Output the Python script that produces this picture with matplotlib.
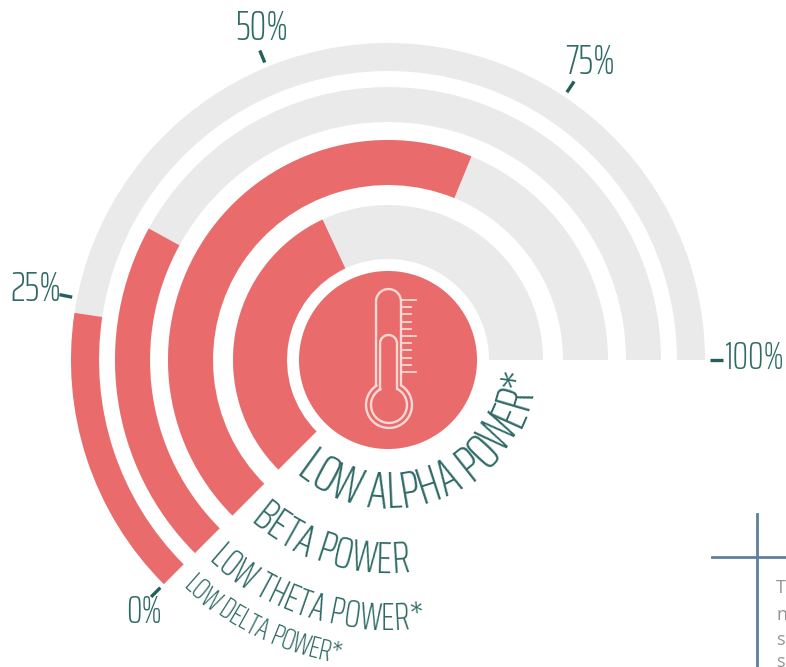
import numpy as np
import matplotlib
matplotlib.use("Agg")
import matplotlib.pyplot as plt
from matplotlib import font_manager as fm
from matplotlib.textpath import TextPath

# Band values in percent, innermost band first
bands = ["LOW ALPHA POWER*", "BETA POWER", "LOW THETA POWER*", "LOW DELTA POWER*"]
values = [48.9, 69.9, 32.8, 23.8]

# Radial extents of the bands and the central disc, in pixels
band_inner = [101, 175, 238, 289]
band_outer = [155, 220, 273, 317]
disc_radius = 89

# Curved label layout: baseline radius, size, start and end angle (degrees)
label_radius = [148, 213, 270, 307]
label_size = [37, 32, 27, 22]
label_start = [231, 229.2, 228, 227.8]
label_end = [356, 276, 278, 261]

tick_values = [0, 25, 50, 75, 100]
tick_labels = ["0%", "25%", "50%", "75%", "100%"]
tick_label_x = [144, 36, 262, 590, 755]
tick_label_y = [612, 289, 28, 62, 358]
tick_label_size = [28, 30, 30, 30, 28]

RED = "#E96B6B"
GREY = "#EAEAEA"
TEAL = "#2F6B66"
PINK = "#F9D9D4"
BLUE = "#5F7F9C"

W, H = 786, 667
CX, CY = 388, 360
RMAX = 340

FAMILY = "Saira ExtraCondensed"
WEIGHT = 275
prop = fm.FontProperties(family=FAMILY, weight=WEIGHT)


def to_theta(pct):
    return np.radians(225 - pct * 2.25)


fig = plt.figure(figsize=(W / 100, H / 100), dpi=100)
ax = fig.add_axes([(CX - RMAX) / W, 1 - (CY + RMAX) / H, 2 * RMAX / W, 2 * RMAX / H],
                  projection="polar")
ax.set_rlim(0, RMAX)
ax.set_axis_off()

full = to_theta(0) - to_theta(100)
for name, v, r0, r1 in zip(bands, values, band_inner, band_outer):
    ax.bar(to_theta(100) + full / 2, r1 - r0, width=full, bottom=r0, color=GREY, linewidth=0)
    w = to_theta(0) - to_theta(v)
    ax.bar(to_theta(v) + w / 2, r1 - r0, width=w, bottom=r0, color=RED, linewidth=0)

disc = np.linspace(0, 2 * np.pi, 200)
ax.fill(disc, np.full_like(disc, disc_radius), color=RED, linewidth=0)

# Percentage ticks
for v in tick_values:
    t = to_theta(v)
    ax.plot([t, t], [322, 335], color="#245F59", lw=2.4, clip_on=False, solid_capstyle="butt")


def curved_label(text, radius, size, start, end):
    fp = prop.copy()
    fp.set_size(size)
    px = size * 100 / 72
    base = TextPath((0, 0), "nn", size=px, prop=fp).get_extents().width
    adv = np.array([TextPath((0, 0), "n" + ch + "n", size=px, prop=fp).get_extents().width - base
                    for ch in text])
    span = np.radians(end - start)
    mids = (np.cumsum(adv) - adv / 2) / adv.sum() * span + np.radians(start)
    for ch, m in zip(text, mids):
        if ch != " ":
            ax.text(m, radius, ch, fontproperties=fp, color=TEAL,
                    rotation=np.degrees(m) + 90, rotation_mode="anchor",
                    ha="center", va="baseline")


for name, r, s, a, b in zip(bands, label_radius, label_size, label_start, label_end):
    curved_label(name, r, s, a, b)

# Pixel-space overlay for tick labels, the thermometer icon and the side panel rule
ov = fig.add_axes([0, 0, 1, 1])
ov.set_xlim(0, W)
ov.set_ylim(H, 0)
ov.axis("off")
ov.patch.set_alpha(0)

for lab, x, y, s in zip(tick_labels, tick_label_x, tick_label_y, tick_label_size):
    ov.text(x, y, lab, family=FAMILY, weight=WEIGHT, fontsize=s, color=TEAL, ha="center", va="center")

# Thermometer: two nested tube-and-bulb outlines, then the scale marks
BULB_X, BULB_Y, TUBE_X = 389, 405, 388.5
for half, top, bulb_r in [(12.5, 289, 23), (8.5, 335, 18)]:
    join = BULB_Y - np.sqrt(bulb_r ** 2 - half ** 2)
    cap = np.linspace(np.pi, 2 * np.pi, 40)
    a_start = np.arctan2(join - BULB_Y, half)
    a_end = np.arctan2(join - BULB_Y, -half) + 2 * np.pi
    arc = np.linspace(a_start, a_end, 90)
    xs = np.r_[TUBE_X - half, TUBE_X + half * np.cos(cap), TUBE_X + half,
               BULB_X + bulb_r * np.cos(arc), TUBE_X - half]
    ys = np.r_[join, top + half + half * np.sin(cap), join,
               BULB_Y + bulb_r * np.sin(arc), join]
    ov.plot(xs, ys, color=PINK, lw=1.7)

for i, y in enumerate(np.linspace(300, 372, 11)):
    ov.plot([401, 416 if i % 5 == 0 else 411], [y, y], color=PINK, lw=1.3)

ov.plot([757, 757], [514, H], color=BLUE, lw=2)
ov.plot([712, W], [557, 557], color=BLUE, lw=2)
for ch, y in zip("Tnss", [588, 615, 640, 662]):
    ov.text(776, y, ch, family="Open Sans", fontsize=13, color="#949494", va="center", ha="left")

fig.savefig("out.png", dpi=100)
